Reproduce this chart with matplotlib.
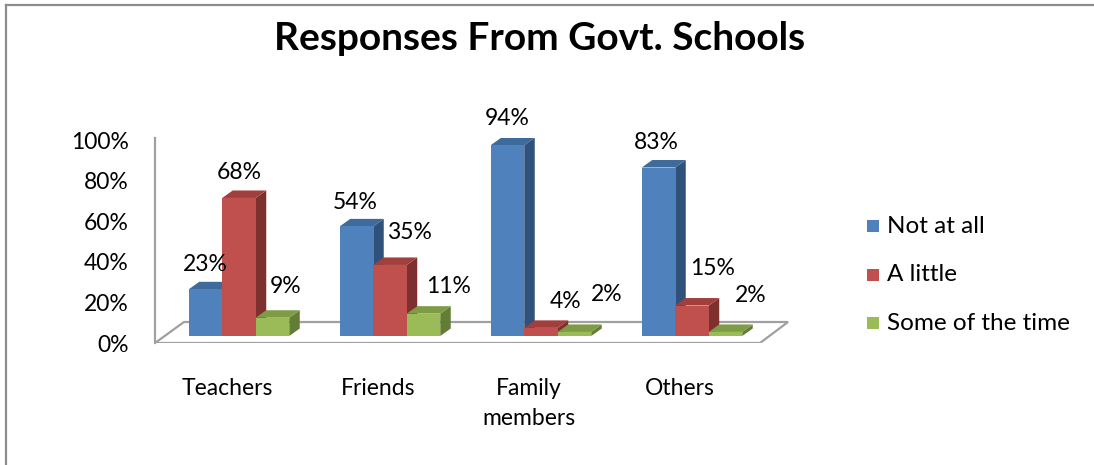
import matplotlib.pyplot as plt
from matplotlib.patches import Polygon
from matplotlib.lines import Line2D

plt.rcParams['font.family'] = ['Lato', 'DejaVu Sans']

# survey responses (% of respondents)
categories = ['Teachers', 'Friends', 'Family\nmembers', 'Others']
series = ['Not at all', 'A little', 'Some of the time']
not_at_all = [23, 54, 94, 83]
a_little = [68, 35, 4, 15]
some_of_time = [9, 11, 2, 2]
values = [not_at_all, a_little, some_of_time]
yticks = [0, 20, 40, 60, 80, 100]

front = ['#4F81BD', '#C0504D', '#9BBB59']
top = ['#3F6A9C', '#A13F3C', '#7E9C45']
side = ['#30527A', '#7E302E', '#637D36']

FS = 16.5

W, H = 1094, 465
fig = plt.figure(figsize=(W / 100, H / 100), dpi=100)

# plot area: left edge is the back wall, bottom sits at the front of the floor
px_left, px_right, px_bottom, px_top = 155, 790, 343, 138
ax = fig.add_axes([px_left / W, 1 - px_bottom / H,
                   (px_right - px_left) / W, (px_bottom - px_top) / H])
ppx = 151.0    # pixels per category
ppy = 2.03     # pixels per percent
base_px = 336  # pixel row of the bar bases
x0 = 239       # pixel column of first group centre
ax.set_xlim((px_left - x0) / ppx, (px_right - x0) / ppx)
ax.set_ylim((base_px - px_bottom) / ppy, (base_px - px_top) / ppy)

for s in ['top', 'right', 'bottom']:
    ax.spines[s].set_visible(False)
ax.spines['left'].set_color('#a0a0a0')
ax.spines['left'].set_linewidth(1.6)
ax.set_xticks([])

# y labels live on the front plane, a few pixels below the bar scale
front_shift = (base_px - px_bottom) / ppy
ax.set_yticks([v + front_shift for v in yticks], [f'{v}%' for v in yticks])
ax.tick_params(axis='y', length=0, pad=19, labelsize=FS)

# floor
fl, fr = (155 - x0) / ppx, (760 - x0) / ppx
bl, br = (184 - x0) / ppx, (788 - x0) / ppx
ff, fb = (base_px - 343) / ppy, (base_px - 322) / ppy
ax.add_patch(Polygon([(fl, ff), (bl, fb), (br, fb), (fr, ff)], closed=True,
                     facecolor='white', edgecolor='#a0a0a0', lw=1.6, zorder=1))

w = 33.5 / ppx
ddx, ddy = 10.5 / ppx, 7.5 / ppy
nudges = [[(0, 25), (-1, 24), (0, 27), (-2, 25)],
          [(0, 25), (19, 32), (25, 26), (21, 37)],
          [(13, 31), (25, 27), (32, 37), (25, 36)]]

z = 2
for i in range(len(categories)):
    for j, vals in enumerate(values):
        h = vals[i]
        xl = i + (j - 1) * w - w / 2
        xr = xl + w
        ax.add_patch(Polygon([(xr, 0), (xr + ddx, ddy), (xr + ddx, h + ddy), (xr, h)],
                             closed=True, facecolor=side[j], lw=0, zorder=z))
        ax.add_patch(Polygon([(xl, h), (xl + ddx, h + ddy), (xr + ddx, h + ddy), (xr, h)],
                             closed=True, facecolor=top[j], lw=0, zorder=z))
        ax.bar(xl, h, width=w, align='edge', color=front[j], lw=0, zorder=z + 1)
        z += 2
        dx, dy = nudges[j][i]
        ax.annotate(f'{h}%', (xl + w / 2, h), xytext=(dx, dy), textcoords='offset pixels',
                    ha='center', va='center', fontsize=FS, annotation_clip=False, zorder=50)

# category names under the floor
for i, c in enumerate(categories):
    ax.annotate(c, (i - 0.08, ff), xytext=(0, -35), textcoords='offset pixels',
                ha='center', va='top', fontsize=FS, linespacing=1.5, annotation_clip=False)

# legend
for j, name in enumerate(series):
    yc = 1 - (226 + 48.5 * j) / H
    fig.patches.append(plt.Rectangle((867 / W, yc - 6 / H), 12 / W, 12 / H,
                                     facecolor=front[j], lw=0, transform=fig.transFigure))
    fig.text(887 / W, yc, name, ha='left', va='center', fontsize=17.5)

fig.text(540 / W, 1 - 38 / H, 'Responses From Govt. Schools', ha='center', va='center',
         fontsize=28, fontweight='bold')

# chart frame
fig.add_artist(Line2D([6 / W, 1], [1 - 5 / H, 1 - 5 / H], color='#8c8c8c', lw=1.6))
fig.add_artist(Line2D([6 / W, 6 / W], [0, 1 - 5 / H], color='#8c8c8c', lw=1.6))

fig.savefig('out.png', dpi=100)
